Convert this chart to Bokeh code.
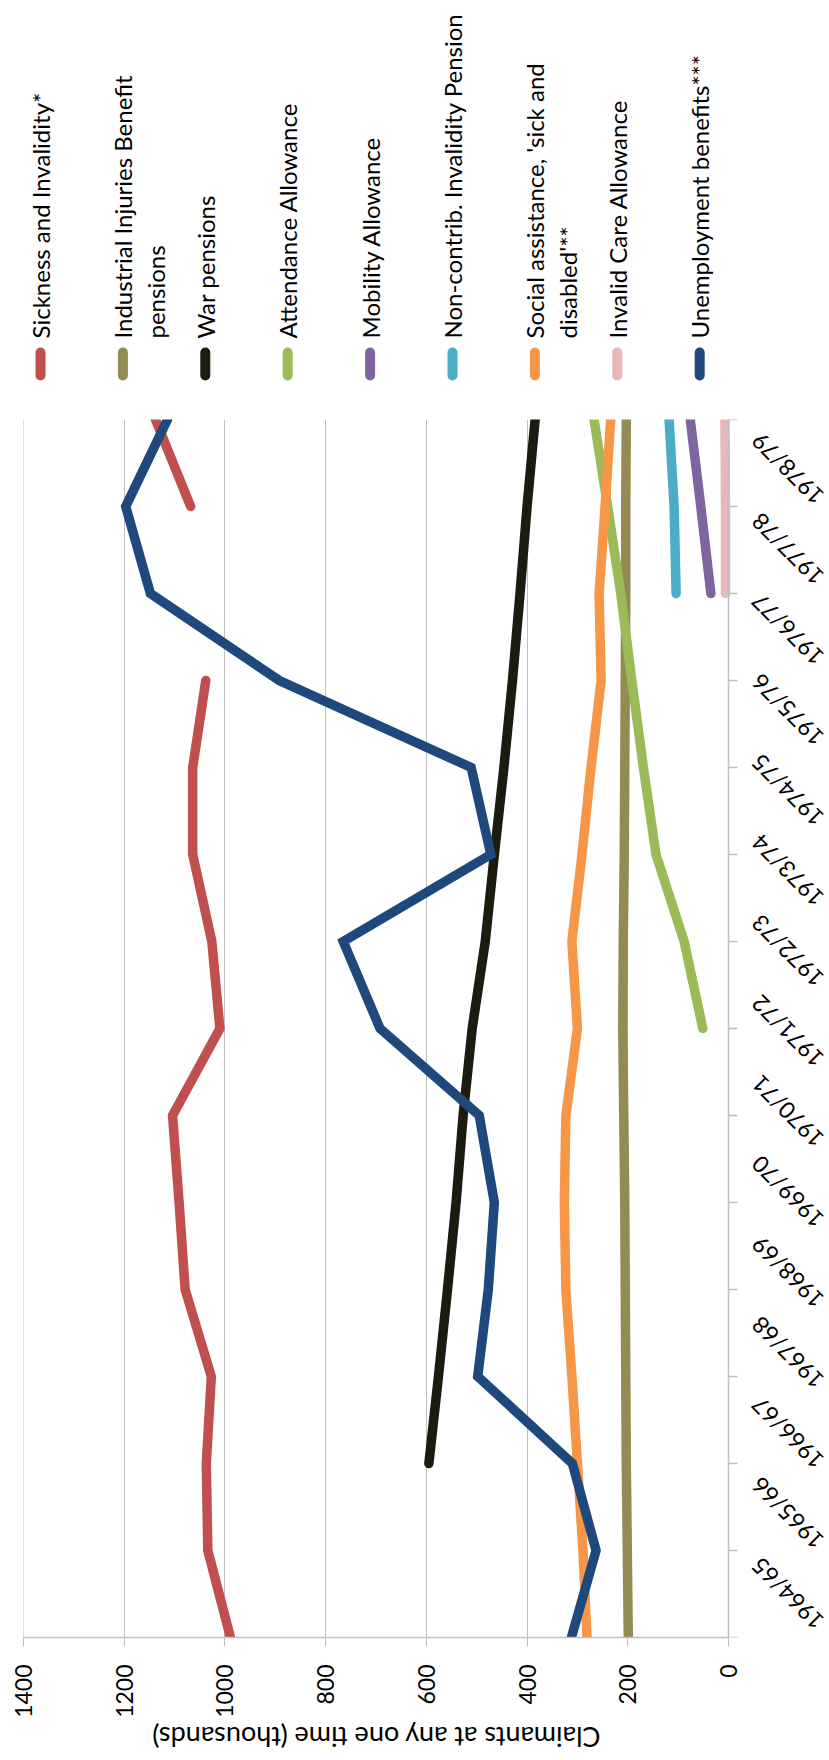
from math import pi, nan

from bokeh.plotting import figure
from bokeh.layouts import column, row
from bokeh.models import Range1d, FixedTicker, Span
from bokeh.core.properties import value
from bokeh.embed import file_html
from bokeh.resources import INLINE

# ---------------------------------------------------------------- data
years = ["1964/65", "1965/66", "1966/67", "1967/68", "1968/69", "1969/70",
         "1970/71", "1971/72", "1972/73", "1973/74", "1974/75", "1975/76",
         "1976/77", "1977/78", "1978/79"]

sickness = [989, 1034, 1037, 1027, 1079, 1091, 1104, 1010, 1026, 1064, 1064,
            1038, nan, 1068, 1138]
industrial = [199, 201, 203, 204, 205, 206, 208, 210, 209, 207, 206, 205, 204,
              204, 203]
war = [nan, nan, 595, 576, 558, 541, 527, 509, 483, 465, 446, 429, 414, 400, 384]
attendance = [nan, nan, nan, nan, nan, nan, nan, 51, 88, 144, 169, 192, 214,
              240, 267]
mobility = [nan] * 12 + [35, 55, 76]
noncontrib = [nan] * 12 + [104, 108, 118]
social = [281, 289, 300, 311, 323, 326, 323, 300, 311, 291, 273, 253, 257, 245,
          234]
invalid_care = [nan] * 12 + [6, 6, 7]
unemployment = [312, 263, 310, 498, 477, 465, 495, 692, 765, 472, 511, 892,
                1148, 1197, 1114]

value_ticks = [0, 200, 400, 600, 800, 1000, 1200, 1400]
axis_title = "Claimants at any one time (thousands)"

series_names = [
    ["Sickness and Invalidity*"],
    ["Industrial Injuries Benefit", "pensions"],
    ["War pensions"],
    ["Attendance Allowance"],
    ["Mobility Allowance"],
    ["Non-contrib. Invalidity Pension"],
    ["Social assistance, 'sick and", "disabled'**"],
    ["Invalid Care Allowance"],
    ["Unemployment benefits***"],
]
series_values = [sickness, industrial, war, attendance, mobility, noncontrib,
                 social, invalid_care, unemployment]
series_colors = ["#C0504D", "#948A54", "#1D1B10", "#9BBB59", "#8064A2",
                 "#4BACC6", "#F79646", "#E6B9B8", "#1F497D"]

# ---------------------------------------------------------------- page layout (px)
W, H = 829, 1760
LEG_H = 400                 # legend band at the top
TITLE_H = 40                # axis-title band at the bottom
BODY_H = H - LEG_H - TITLE_H
MAIN_W = 745                # plot panel; the year labels sit to its right
YEARS_W = W - MAIN_W

FRAME_L = 23                # plot frame inside the plot panel
FRAME_T = 19
FRAME_W = 705
FRAME_H = 1219
FRAME_B = BODY_H - FRAME_T - FRAME_H

VMAX = 1400
NCAT = len(years) - 1
CAT_PX = FRAME_H / NCAT
VAL_PX = FRAME_W / VMAX
V_EXTRA = (MAIN_W - FRAME_L - FRAME_W) / VAL_PX   # room right of the 0 line

FONT = "Lato"
LEG_SIZE = "24px"
TICK_SIZE = "23px"
TITLE_SIZE = "27px"
GRID = "#BFBFBF"
TEXT = "#000000"


def bare(fig):
    fig.outline_line_color = None
    fig.background_fill_color = "white"
    fig.border_fill_color = "white"
    fig.min_border = 0
    return fig


# ---------------------------------------------------------------- plot panel
p = bare(figure(width=MAIN_W, height=BODY_H, output_backend="svg",
                toolbar_location=None, y_axis_location=None,
                x_range=Range1d(VMAX, -V_EXTRA), y_range=Range1d(0, NCAT)))
p.min_border_left = FRAME_L
p.min_border_right = 0
p.min_border_top = FRAME_T
p.min_border_bottom = FRAME_B

xa = p.xaxis[0]
xa.bounds = (0, VMAX)
xa.ticker = FixedTicker(ticks=value_ticks)
xa.major_label_orientation = pi / 2
xa.major_label_text_font = FONT
xa.major_label_text_font_size = TICK_SIZE
xa.major_label_text_color = TEXT
xa.major_label_standoff = 18
xa.axis_line_color = GRID
xa.axis_line_width = 1.5
xa.major_tick_line_color = GRID
xa.major_tick_out = 9
xa.major_tick_in = 0
xa.minor_tick_line_color = None

p.xgrid.ticker = FixedTicker(ticks=value_ticks[1:])
p.xgrid.grid_line_color = GRID
p.ygrid.visible = False
p.add_layout(Span(location=VMAX, dimension="height", line_color=GRID,
                  line_width=1))

# category axis line at 0 with outward ticks
cats = list(range(len(years)))
p.add_layout(Span(location=0, dimension="height", line_color=GRID,
                  line_width=1.5))
p.segment(x0=[0] * len(cats), y0=cats, x1=[-9 / VAL_PX] * len(cats), y1=cats,
          line_color=GRID, line_width=1.5)

for vals, color in zip(series_values, series_colors):
    p.line(x=vals, y=cats, line_color=color, line_width=9.5,
           line_cap="round", line_join="miter")

# ---------------------------------------------------------------- year labels
ylab = bare(figure(width=YEARS_W, height=BODY_H, output_backend="svg",
                   toolbar_location=None, x_axis_location=None,
                   y_axis_location=None, x_range=Range1d(0, YEARS_W),
                   y_range=Range1d(-FRAME_B / CAT_PX, NCAT + FRAME_T / CAT_PX)))
ylab.grid.visible = False
ylab.text(x=[10] * len(years), y=cats, text=years, angle=3 * pi / 4,
          text_align="right", text_baseline="middle",
          text_font=value(FONT), text_font_size=value(TICK_SIZE),
          text_color=TEXT)

# ---------------------------------------------------------------- legend
leg = bare(figure(width=W, height=LEG_H, output_backend="svg",
                  toolbar_location=None, x_axis_location=None,
                  y_axis_location=None, x_range=Range1d(0, W),
                  y_range=Range1d(LEG_H, 0)))
leg.grid.visible = False
LEG_X0, LEG_DX, LINE_GAP = 40, 82.4, 32.6
mx, tx, ty, tt = [], [], [], []
for k, lines in enumerate(series_names):
    cx = LEG_X0 + k * LEG_DX
    mx.append(cx)
    for j, line in enumerate(lines):
        tx.append(cx + j * LINE_GAP)
        ty.append(338)
        tt.append(line)
leg.segment(x0=mx, y0=[375] * len(mx), x1=mx, y1=[352] * len(mx),
            line_color=series_colors, line_width=10, line_cap="round")
leg.text(x=tx, y=ty, text=tt, angle=pi / 2, text_align="left",
         text_baseline="middle", text_font=value(FONT),
         text_font_size=value(LEG_SIZE), text_color=TEXT)

# ---------------------------------------------------------------- axis title
ttl = bare(figure(width=W, height=TITLE_H, output_backend="svg",
                  toolbar_location=None, x_axis_location=None,
                  y_axis_location=None, x_range=Range1d(0, W),
                  y_range=Range1d(TITLE_H, 0)))
ttl.grid.visible = False
ttl.text(x=[FRAME_L + FRAME_W / 2], y=[17], text=[axis_title], angle=pi,
         text_align="center", text_baseline="middle", text_font=value(FONT),
         text_font_size=value(TITLE_SIZE), text_color=TEXT)

page = column(leg, row(p, ylab, spacing=0), ttl, spacing=0)
open("out.html", "w").write(file_html(page, INLINE))
